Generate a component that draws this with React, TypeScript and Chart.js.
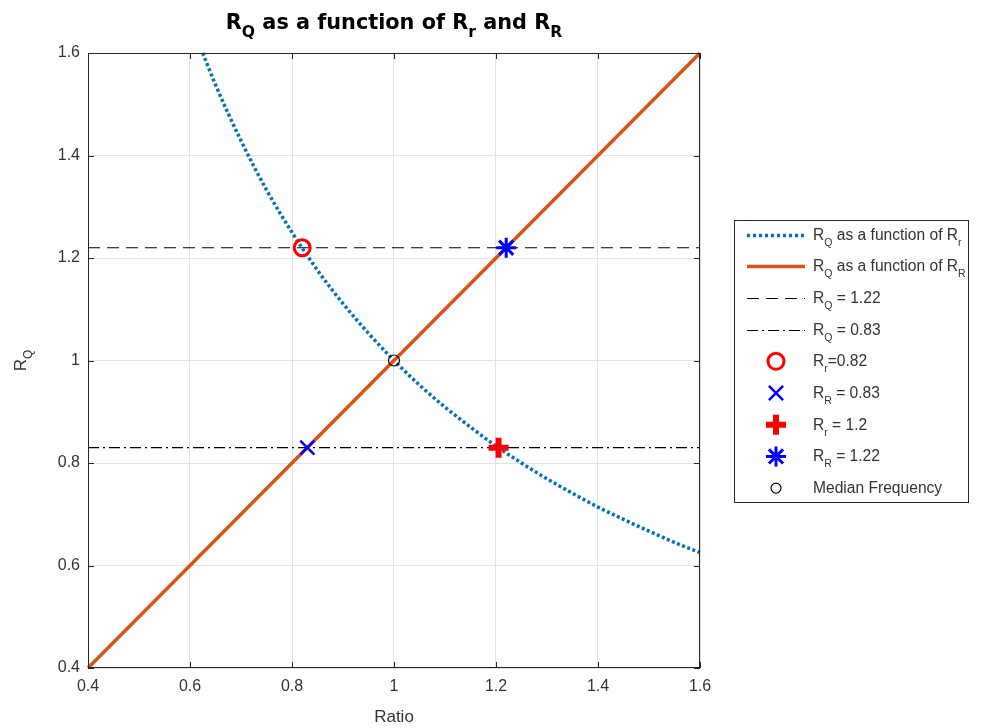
import React, { useEffect, useRef } from 'react';
import { Chart, registerables } from 'chart.js';

Chart.register(...registerables);

// ---------- data ----------
const xTickValues = [0.4, 0.6, 0.8, 1.0, 1.2, 1.4, 1.6];
const yTickValues = [0.4, 0.6, 0.8, 1.0, 1.2, 1.4, 1.6];

// R_Q as a function of R_r (blue dotted curve)
const rrRatio = [0.625, 0.65, 0.7, 0.75, 0.8, 0.85, 0.9, 0.95, 1.0, 1.05, 1.1, 1.15, 1.2, 1.25, 1.3, 1.35, 1.4, 1.45, 1.5, 1.55, 1.6];
const rqFromRr = [1.6, 1.538, 1.429, 1.333, 1.25, 1.176, 1.111, 1.053, 1.0, 0.952, 0.909, 0.87, 0.833, 0.8, 0.769, 0.741, 0.714, 0.69, 0.667, 0.645, 0.625];

// R_Q as a function of R_R (orange line)
const rRRatio = [0.4, 1.6];
const rqFromRR = [0.4, 1.6];

// horizontal reference lines
const hLineX = [0.4, 1.6];
const rqHigh = 1.22;
const rqLow = 0.83;

// markers: Rr=0.82, RR=0.83, Rr=1.2, RR=1.22, median
const markerX = [0.82, 0.83, 1.205, 1.22, 1.0];
const markerY = [1.22, 0.83, 0.83, 1.22, 1.0];

type Seg = { t: string; sub?: boolean };
const titleSegs: Seg[] = [
  { t: 'R' }, { t: 'Q', sub: true }, { t: ' as a function of R' }, { t: 'r', sub: true },
  { t: ' and R' }, { t: 'R', sub: true },
];
const yLabelSegs: Seg[] = [{ t: 'R' }, { t: 'Q', sub: true }];
const xLabelText = 'Ratio';

const legendLabels: Seg[][] = [
  [{ t: 'R' }, { t: 'Q', sub: true }, { t: ' as a function of R' }, { t: 'r', sub: true }],
  [{ t: 'R' }, { t: 'Q', sub: true }, { t: ' as a function of R' }, { t: 'R', sub: true }],
  [{ t: 'R' }, { t: 'Q', sub: true }, { t: ' = 1.22' }],
  [{ t: 'R' }, { t: 'Q', sub: true }, { t: ' = 0.83' }],
  [{ t: 'R' }, { t: 'r', sub: true }, { t: '=0.82' }],
  [{ t: 'R' }, { t: 'R', sub: true }, { t: ' = 0.83' }],
  [{ t: 'R' }, { t: 'r', sub: true }, { t: ' = 1.2' }],
  [{ t: 'R' }, { t: 'R', sub: true }, { t: ' = 1.22' }],
  [{ t: 'Median Frequency' }],
];

const BLUE = '#0072BD';
const ORANGE = '#D95319';
const AXIS = '#262626';
const TEXT = '#333333';

function richWidth(ctx: CanvasRenderingContext2D, segs: Seg[], baseFont: string, subFont: string) {
  let total = 0;
  for (const s of segs) {
    ctx.font = s.sub ? subFont : baseFont;
    total += ctx.measureText(s.t).width;
  }
  return total;
}

function drawRich(ctx: CanvasRenderingContext2D, segs: Seg[], x: number, y: number, align: 'left' | 'center',
  baseFont: string, subFont: string, subDy: number) {
  const total = richWidth(ctx, segs, baseFont, subFont);
  let cx = align === 'center' ? x - total / 2 : x;
  ctx.textAlign = 'left';
  ctx.textBaseline = 'alphabetic';
  for (const s of segs) {
    ctx.font = s.sub ? subFont : baseFont;
    ctx.fillText(s.t, cx, y + (s.sub ? subDy : 0));
    cx += ctx.measureText(s.t).width;
  }
}

function drawMarker(ctx: CanvasRenderingContext2D, style: string, x: number, y: number, r: number, lw: number, color: string) {
  ctx.save();
  ctx.strokeStyle = color;
  ctx.lineWidth = lw;
  ctx.setLineDash([]);
  ctx.beginPath();
  if (style === 'circle') {
    ctx.arc(x, y, r, 0, Math.PI * 2);
  } else if (style === 'cross') {
    ctx.moveTo(x - r, y); ctx.lineTo(x + r, y);
    ctx.moveTo(x, y - r); ctx.lineTo(x, y + r);
  } else if (style === 'crossRot') {
    const d = r * Math.SQRT1_2;
    ctx.moveTo(x - d, y - d); ctx.lineTo(x + d, y + d);
    ctx.moveTo(x - d, y + d); ctx.lineTo(x + d, y - d);
  } else if (style === 'star') {
    const d = r * Math.SQRT1_2;
    ctx.moveTo(x - r, y); ctx.lineTo(x + r, y);
    ctx.moveTo(x, y - r); ctx.lineTo(x, y + r);
    ctx.moveTo(x - d, y - d); ctx.lineTo(x + d, y + d);
    ctx.moveTo(x - d, y + d); ctx.lineTo(x + d, y - d);
  }
  ctx.stroke();
  ctx.restore();
}

const decorPlugin = {
  id: 'decor',
  afterDraw(chart: any) {
    const ctx: CanvasRenderingContext2D = chart.ctx;
    const { left, right, top, bottom } = chart.chartArea;
    const xs = chart.scales.x;
    const ys = chart.scales.y;
    ctx.save();
    // box
    ctx.strokeStyle = AXIS;
    ctx.lineWidth = 1;
    ctx.setLineDash([]);
    ctx.strokeRect(left + 0.5, top + 0.5, right - left - 1, bottom - top - 1);
    // inward ticks
    ctx.beginPath();
    for (const v of xTickValues) {
      const px = Math.round(xs.getPixelForValue(v)) + 0.5;
      ctx.moveTo(px, bottom); ctx.lineTo(px, bottom - 6);
      ctx.moveTo(px, top); ctx.lineTo(px, top + 6);
    }
    for (const v of yTickValues) {
      const py = Math.round(ys.getPixelForValue(v)) + 0.5;
      ctx.moveTo(left, py); ctx.lineTo(left + 6, py);
      ctx.moveTo(right, py); ctx.lineTo(right - 6, py);
    }
    ctx.stroke();

    // title (fit to the reference width)
    ctx.fillStyle = '#000000';
    const fam = '"DejaVu Sans"';
    const w20 = richWidth(ctx, titleSegs, `bold 20px ${fam}`, `bold 15px ${fam}`);
    const k = 336 / w20;
    const tb = (20 * k).toFixed(1);
    const tsb = (15 * k).toFixed(1);
    drawRich(ctx, titleSegs, (left + right) / 2, 29, 'center', `bold ${tb}px ${fam}`, `bold ${tsb}px ${fam}`, 8);

    // x label
    ctx.fillStyle = TEXT;
    ctx.font = '17px "Liberation Sans"';
    ctx.textAlign = 'center';
    ctx.textBaseline = 'alphabetic';
    ctx.fillText(xLabelText, (left + right) / 2, 722);

    // y label
    ctx.save();
    ctx.translate(26, (top + bottom) / 2);
    ctx.rotate(-Math.PI / 2);
    drawRich(ctx, yLabelSegs, 0, 0, 'center', '17px "Liberation Sans"', '12px "Liberation Sans"', 6);
    ctx.restore();

    // legend
    const lx = 734, ly = 220, lw = 234, lh = 282;
    ctx.fillStyle = '#ffffff';
    ctx.fillRect(lx, ly, lw, lh);
    ctx.strokeStyle = AXIS;
    ctx.lineWidth = 1;
    ctx.strokeRect(lx + 0.5, ly + 0.5, lw, lh);
    const rowY = (i: number) => 234.5 + i * 31.7;
    const s0 = 747, s1 = 805, mx = 776, tx = 813;
    const lineSample = (i: number, color: string, width: number, dash: number[]) => {
      ctx.save();
      ctx.strokeStyle = color;
      ctx.lineWidth = width;
      ctx.setLineDash(dash);
      ctx.beginPath();
      ctx.moveTo(s0, Math.round(rowY(i)) + 0.5);
      ctx.lineTo(s1, Math.round(rowY(i)) + 0.5);
      ctx.stroke();
      ctx.restore();
    };
    lineSample(0, BLUE, 3.5, [3, 3]);
    lineSample(1, ORANGE, 3.5, []);
    lineSample(2, '#000000', 1.2, [12, 7]);
    lineSample(3, '#000000', 1.2, [11, 4, 2, 4]);
    drawMarker(ctx, 'circle', mx, rowY(4), 8, 3, '#ff0000');
    drawMarker(ctx, 'crossRot', mx, rowY(5), 10, 2.5, '#0000ff');
    drawMarker(ctx, 'cross', mx, rowY(6), 10, 6, '#ff0000');
    drawMarker(ctx, 'star', mx, rowY(7), 10, 3, '#0000ff');
    drawMarker(ctx, 'circle', mx, rowY(8), 5, 1.2, '#000000');
    ctx.fillStyle = TEXT;
    legendLabels.forEach((segs, i) => {
      drawRich(ctx, segs, tx, rowY(i) + 5, 'left', '15.6px "Liberation Sans"', '10.5px "Liberation Sans"', 6);
    });
    ctx.restore();
  },
};

const pts = (xs: number[], ys: number[]) => xs.map((x, i) => ({ x, y: ys[i] }));

export default function App() {
  const ref = useRef<HTMLCanvasElement | null>(null);
  useEffect(() => {
    if (!ref.current) return;
    const markerDs = (i: number, style: string, r: number, bw: number, color: string) => ({
      type: 'line' as const,
      data: [{ x: markerX[i], y: markerY[i] }],
      showLine: false,
      pointStyle: style,
      pointRadius: r,
      pointBorderWidth: bw,
      pointBorderColor: color,
      pointBackgroundColor: 'rgba(0,0,0,0)',
      borderColor: color,
      order: 1,
      clip: 20,
    });
    const chart = new Chart(ref.current, {
      type: 'line',
      data: {
        datasets: [
          {
            data: pts(rrRatio, rqFromRr),
            borderColor: BLUE,
            borderWidth: 3.5,
            borderDash: [3, 2.5],
            borderCapStyle: 'butt',
            pointRadius: 0,
            cubicInterpolationMode: 'monotone',
            order: 9,
            clip: 4,
          },
          {
            data: pts(rRRatio, rqFromRR),
            borderColor: ORANGE,
            borderWidth: 3.5,
            pointRadius: 0,
            order: 8,
            clip: 4,
          },
          {
            data: pts(hLineX, hLineX.map(() => rqHigh)),
            borderColor: '#000000',
            borderWidth: 1.2,
            borderDash: [12, 7],
            pointRadius: 0,
            order: 7,
          },
          {
            data: pts(hLineX, hLineX.map(() => rqLow)),
            borderColor: '#000000',
            borderWidth: 1.2,
            borderDash: [11, 4, 2, 4],
            pointRadius: 0,
            order: 6,
          },
          markerDs(0, 'circle', 8, 3, '#ff0000'),
          markerDs(1, 'crossRot', 10, 2.5, '#0000ff'),
          markerDs(2, 'cross', 10, 6, '#ff0000'),
          markerDs(3, 'star', 10, 3, '#0000ff'),
          { ...markerDs(4, 'circle', 5.5, 1.2, '#000000'), order: 0 },
        ] as any,
      },
      options: {
        animation: false,
        responsive: false,
        devicePixelRatio: 1,
        events: [],
        layout: { padding: { left: 0, top: 53, right: 297, bottom: 0 } },
        plugins: {
          legend: { display: false },
          title: { display: false },
          tooltip: { enabled: false },
        },
        scales: {
          x: {
            type: 'linear',
            min: 0.4,
            max: 1.6,
            afterFit: (s: any) => { s.height = 60; },
            afterBuildTicks: (s: any) => { s.ticks = xTickValues.map((v) => ({ value: v })); },
            ticks: {
              padding: 9,
              color: TEXT,
              font: { family: 'Liberation Sans', size: 16 },
              callback: (v: any) => String(Number(Number(v).toFixed(1))),
              maxRotation: 0,
            },
            grid: { color: '#e3e3e3', lineWidth: 1, drawTicks: false },
            border: { display: false },
          },
          y: {
            type: 'linear',
            min: 0.4,
            max: 1.6,
            afterFit: (s: any) => { s.width = 88; },
            afterBuildTicks: (s: any) => { s.ticks = yTickValues.map((v) => ({ value: v })); },
            ticks: {
              padding: 8,
              color: TEXT,
              font: { family: 'Liberation Sans', size: 16 },
              callback: (v: any) => String(Number(Number(v).toFixed(1))),
            },
            grid: { color: '#e3e3e3', lineWidth: 1, drawTicks: false },
            border: { display: false },
          },
        },
      } as any,
      plugins: [decorPlugin],
    });
    return () => chart.destroy();
  }, []);
  return (
    <div style={{ position: 'fixed', left: 0, top: 0, width: 997, height: 728, background: '#ffffff' }}>
      <canvas ref={ref} width={997} height={728} style={{ width: 997, height: 728, display: 'block' }} />
    </div>
  );
}
